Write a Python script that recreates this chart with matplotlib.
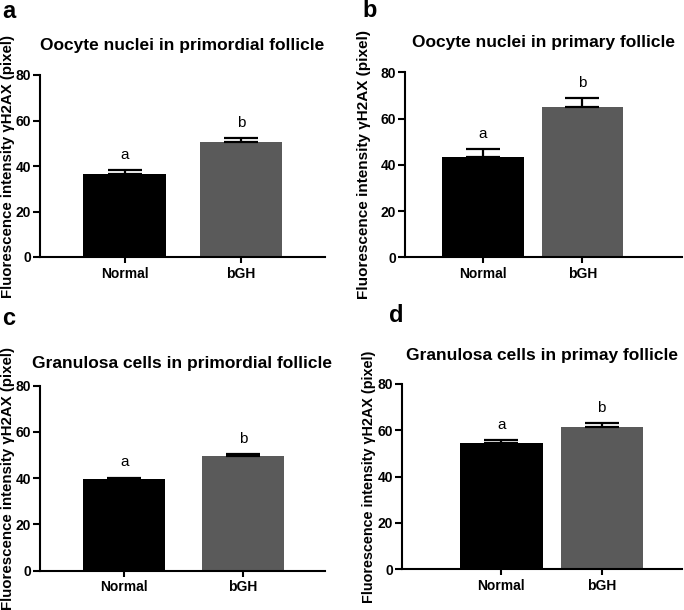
import matplotlib
matplotlib.use('Agg')
import matplotlib.pyplot as plt

plt.rcParams['font.family'] = ['Liberation Sans', 'DejaVu Sans']

W, H = 684, 610

groups = ['Normal', 'bGH']
letters = ['a', 'b']
bar_colors = ['#000000', '#5a5a5a']

titles = ['Oocyte nuclei in primordial follicle',
          'Oocyte nuclei in primary follicle',
          'Granulosa cells in primordial follicle',
          'Granulosa cells in primay follicle']
panel_tags = ['a', 'b', 'c', 'd']

means_a = [36.5, 50.5]
sem_a = [1.6, 1.8]
means_b = [43.5, 65.2]
sem_b = [3.3, 3.5]
means_c = [39.8, 49.6]
sem_c = [0.5, 0.8]
means_d = [54.5, 61.3]
sem_d = [1.4, 1.7]

yticks = [0, 20, 40, 60, 80]
ylabel = 'Fluorescence intensity \u03b3H2AX (pixel)'

# layout in pixels: left, axis-bottom, right, axis-top
boxes = [(40, 257, 325, 75), (405, 257.3, 682, 72.3),
         (40, 570.7, 325, 385.7), (402, 569.3, 682, 384)]
xlims = [(-0.725, 1.72), (-0.78, 2.0), (-0.71, 1.69), (-0.99, 1.8)]
widths = [0.71, 0.82, 0.69, 0.82]
label_px = [25, 34, 25, 26]   # right edge of the rotated label, left of the axis
label_fs = [10.8, 11, 10.8, 10.4]
title_pad = [18, 18, 13, 17]
tag_pos = [(2, 18), (362, 17), (2, 325), (389, 322)]

fig = plt.figure(figsize=(W / 100, H / 100), dpi=100)

data = [(means_a, sem_a), (means_b, sem_b), (means_c, sem_c), (means_d, sem_d)]
for i, (means, sems) in enumerate(data):
    l, b, r, t = boxes[i]
    ax = fig.add_axes([l / W, 1 - b / H, (r - l) / W, (b - t) / H])
    xs = [0, 1]
    ax.bar(xs, means, width=widths[i], color=bar_colors, edgecolor='none', zorder=2)
    ax.errorbar(xs, means, yerr=[[0, 0], sems], fmt='none', ecolor='black',
                elinewidth=1.6, capsize=12, capthick=1.6, zorder=3)
    for x, m, s, lt in zip(xs, means, sems, letters):
        ax.annotate(lt, (x, m + s), xytext=(0, 8), textcoords='offset points',
                    ha='center', va='baseline', fontsize=11)
    ax.set_xlim(*xlims[i])
    ax.set_ylim(0, 80)
    ax.set_yticks(yticks)
    ax.set_xticks(xs)
    ax.set_xticklabels(groups, fontweight='bold', fontsize=10)
    for lab in ax.get_yticklabels():
        lab.set_fontweight('bold')
        lab.set_fontsize(10)
    ax.spines['top'].set_visible(False)
    ax.spines['right'].set_visible(False)
    ax.spines['left'].set_linewidth(1.5)
    ax.spines['bottom'].set_linewidth(1.5)
    ax.tick_params(axis='y', length=5, width=1.5, pad=1.5)
    ax.tick_params(axis='x', length=4, width=1.5, pad=3)
    ax.set_ylabel(ylabel, fontweight='bold', fontsize=label_fs[i])
    ax.yaxis.set_label_coords(-label_px[i] / (r - l), 0.5)
    ax.set_title(titles[i], fontweight='bold', fontsize=12.5, pad=title_pad[i])
    tx, ty = tag_pos[i]
    fig.text(tx / W, 1 - ty / H, panel_tags[i], fontweight='bold', fontsize=17,
             ha='left', va='baseline')

fig.savefig('out.png', dpi=100)
